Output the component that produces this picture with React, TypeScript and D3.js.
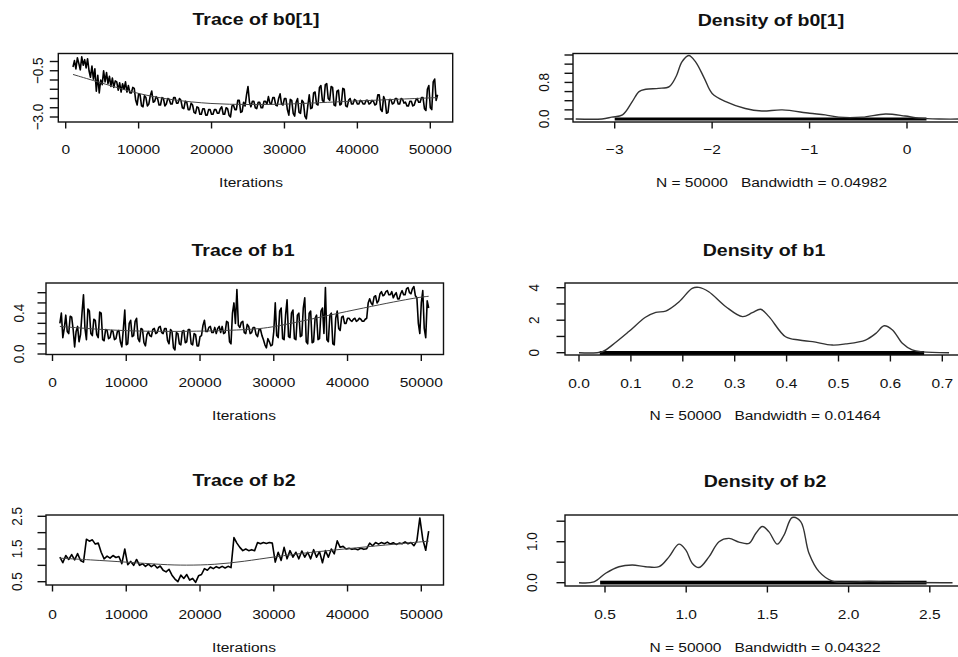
import React from "react";
import * as d3 from "d3";

// thinned MCMC samples starting at iteration 1000
const iterStart = 1000;
const b0Step = 200; // b0 and b1: one value every 200 iterations
const b1Step = 200;
const b2Step = 400; // b2: one value every 400 iterations

const b0Trace = [
  -0.30, 0.05, -0.40, 0.20, -0.10, -0.45, 0.25, -0.20, 0.10, -0.35,
  0.15, -0.50, -0.85, -0.25, -0.95, -0.40, -1.60, -0.75, -1.70, -1.00,
  -1.25, -0.50, -1.10, -0.60, -1.20, -0.80, -1.35, -0.90, -1.40, -1.05,
  -1.10, -1.55, -1.15, -1.65, -1.20, -1.50, -1.10, -1.65, -1.30, -1.70,
  -1.70, -1.40, -1.45, -2.10, -2.35, -1.75, -1.80, -2.40, -2.45, -1.85,
  -1.95, -2.40, -2.30, -1.85, -1.60, -2.20, -2.15, -1.90, -2.00, -2.35,
  -2.35, -1.95, -2.00, -2.40, -2.30, -2.00, -2.05, -2.30, -2.30, -1.95,
  -1.95, -2.25, -2.25, -2.00, -2.10, -2.50, -2.55, -2.15, -2.20, -2.60,
  -2.60, -2.25, -2.35, -2.75, -2.80, -2.45, -2.50, -2.85, -2.85, -2.55,
  -2.55, -2.90, -2.90, -2.60, -2.60, -2.85, -2.85, -2.60, -2.60, -2.80,
  -2.80, -2.55, -2.45, -2.85, -2.85, -2.50, -2.55, -2.90, -3.00, -2.40,
  -2.35, -2.60, -2.60, -2.10, -2.10, -2.75, -2.70, -2.20, -2.40, -1.80,
  -1.35, -2.20, -2.45, -2.15, -2.15, -2.50, -2.55, -2.20, -2.20, -2.50,
  -2.50, -2.15, -2.15, -2.30, -1.90, -2.25, -2.30, -1.95, -1.95, -2.35,
  -2.40, -2.00, -1.75, -2.30, -2.35, -2.00, -2.00, -2.60, -2.90, -2.05,
  -2.10, -2.80, -2.95, -2.20, -2.00, -2.75, -2.80, -2.10, -2.20, -2.95,
  -3.10, -2.40, -1.80, -2.55, -2.50, -1.70, -1.65, -2.30, -2.35, -1.40,
  -1.30, -2.10, -2.20, -1.25, -1.20, -2.00, -2.10, -1.35, -1.40, -2.35,
  -2.40, -1.60, -1.55, -2.35, -2.30, -1.45, -1.50, -2.40, -2.45, -2.10,
  -2.00, -2.30, -2.30, -2.05, -2.10, -2.30, -2.30, -2.10, -2.15, -2.30,
  -2.30, -2.10, -2.10, -2.30, -2.25, -2.10, -2.15, -2.35, -2.30, -1.80,
  -1.80, -2.60, -2.70, -1.90, -2.10, -2.80, -2.75, -2.05, -2.05, -2.30,
  -2.25, -2.00, -2.00, -2.30, -2.30, -2.00, -2.05, -2.25, -2.20, -2.40,
  -2.40, -2.15, -2.15, -2.40, -2.35, -2.10, -2.00, -2.20, -2.20, -1.95,
  -1.95, -2.55, -2.65, -1.50, -1.30, -2.50, -2.60, -1.10, -0.95, -2.10,
  -1.80,
];

const b1Trace = [
  0.30, 0.40, 0.16, 0.25, 0.38, 0.22, 0.20, 0.37, 0.36, 0.24,
  0.07, 0.22, 0.27, 0.12, 0.19, 0.40, 0.58, 0.25, 0.14, 0.44,
  0.42, 0.20, 0.18, 0.34, 0.33, 0.19, 0.16, 0.41, 0.40, 0.14,
  0.13, 0.24, 0.23, 0.15, 0.16, 0.23, 0.22, 0.14, 0.15, 0.22,
  0.23, 0.12, 0.07, 0.24, 0.43, 0.09, 0.10, 0.30, 0.33, 0.17,
  0.18, 0.32, 0.35, 0.15, 0.12, 0.25, 0.24, 0.11, 0.08, 0.19,
  0.22, 0.18, 0.17, 0.24, 0.25, 0.20, 0.21, 0.26, 0.27, 0.21,
  0.20, 0.25, 0.25, 0.13, 0.10, 0.24, 0.22, 0.06, 0.04, 0.21,
  0.20, 0.10, 0.09, 0.22, 0.23, 0.11, 0.12, 0.24, 0.24, 0.10,
  0.09, 0.20, 0.19, 0.08, 0.08, 0.17, 0.18, 0.28, 0.33, 0.22,
  0.22, 0.26, 0.27, 0.21, 0.21, 0.26, 0.20, 0.25, 0.27, 0.21,
  0.27, 0.20, 0.21, 0.32, 0.31, 0.12, 0.10, 0.40, 0.50, 0.30,
  0.63, 0.28, 0.26, 0.31, 0.32, 0.21, 0.20, 0.29, 0.27, 0.20,
  0.21, 0.26, 0.26, 0.19, 0.17, 0.24, 0.24, 0.18, 0.14, 0.09,
  0.06, 0.15, 0.12, 0.08, 0.09, 0.22, 0.50, 0.18, 0.16, 0.42,
  0.45, 0.15, 0.14, 0.38, 0.53, 0.17, 0.16, 0.40, 0.43, 0.15,
  0.14, 0.38, 0.40, 0.17, 0.18, 0.45, 0.55, 0.12, 0.10, 0.40,
  0.42, 0.11, 0.12, 0.35, 0.38, 0.14, 0.15, 0.42, 0.45, 0.20,
  0.65, 0.14, 0.12, 0.38, 0.40, 0.10, 0.09, 0.35, 0.42, 0.25,
  0.23, 0.36, 0.37, 0.30, 0.30, 0.35, 0.35, 0.33, 0.32, 0.34,
  0.35, 0.32, 0.33, 0.35, 0.34, 0.32, 0.32, 0.34, 0.35, 0.50,
  0.54, 0.50, 0.48, 0.56, 0.57, 0.50, 0.52, 0.59, 0.61, 0.57,
  0.58, 0.61, 0.62, 0.58, 0.58, 0.61, 0.55, 0.58, 0.60, 0.54,
  0.54, 0.59, 0.62, 0.58, 0.58, 0.64, 0.65, 0.60, 0.59, 0.64,
  0.66, 0.57, 0.55, 0.30, 0.20, 0.50, 0.62, 0.25, 0.16, 0.52,
  0.45,
];

const b2Trace = [
  1.25, 1.08, 1.30, 1.18, 1.33, 1.17, 1.36, 1.15, 1.10, 1.80,
  1.74, 1.78, 1.65, 1.68, 1.40, 1.20, 1.28, 1.22, 1.30, 1.24,
  1.27, 1.05, 1.50, 1.02, 1.12, 1.00, 1.18, 1.00, 1.05, 0.97,
  1.04, 0.96, 1.02, 0.92, 0.98, 0.85, 0.80, 0.88, 0.70, 0.58,
  0.50, 0.70, 0.60, 0.72, 0.55, 0.60, 0.48, 0.68, 0.72, 0.90,
  0.85, 0.95, 0.90, 0.96, 0.92, 0.97, 0.92, 0.97, 0.93, 1.85,
  1.68, 1.55, 1.45, 1.50, 1.45, 1.48, 1.45, 1.70, 1.66, 1.70,
  1.67, 1.70, 1.68, 1.10, 1.40, 1.15, 1.55, 1.20, 1.45, 1.25,
  1.40, 1.20, 1.44, 1.25, 1.40, 1.20, 1.48, 1.25, 1.42, 1.08,
  1.45, 1.25, 1.50, 1.35, 1.75, 1.55, 1.58, 1.50, 1.52, 1.49,
  1.51, 1.48, 1.52, 1.49, 1.51, 1.68, 1.60, 1.70, 1.65, 1.70,
  1.66, 1.71, 1.65, 1.69, 1.64, 1.68, 1.66, 1.72, 1.66, 1.70,
  1.60, 1.75, 2.45, 1.80, 1.46, 2.05,
];

// lowess smooth over the traces: [iteration, value]
const b0Smooth: [number, number][] = [
  [1000, -0.70], [5500, -1.23], [10000, -1.76], [14500, -2.08], [20000, -2.30],
  [25000, -2.33], [30000, -2.32], [35000, -2.22], [39000, -2.15], [45000, -2.05], [51000, -1.95],
];
const b1Smooth: [number, number][] = [
  [1000, 0.27], [10000, 0.22], [20000, 0.22], [27000, 0.24], [30000, 0.26],
  [40000, 0.42], [49000, 0.55], [51000, 0.565],
];
const b2Smooth: [number, number][] = [
  [1000, 1.22], [5000, 1.17], [10000, 1.10], [15000, 1.02], [18000, 1.00], [22000, 1.02],
  [26000, 1.12], [30000, 1.26], [35000, 1.40], [40000, 1.51], [45000, 1.62], [51000, 1.74],
];

// kernel density estimates: [value, density]
const b0Density: [number, number][] = [
  [-3.40, 0], [-3.13, 0], [-3.03, 0.04], [-2.92, 0.09], [-2.82, 0.38], [-2.75, 0.6],
  [-2.68, 0.65], [-2.55, 0.67], [-2.44, 0.71], [-2.37, 0.93], [-2.31, 1.25], [-2.24, 1.39],
  [-2.17, 1.25], [-2.08, 0.89], [-2.0, 0.56], [-1.86, 0.38], [-1.66, 0.23], [-1.49, 0.175],
  [-1.28, 0.2], [-1.0, 0.125], [-0.84, 0.09], [-0.70, 0.04], [-0.46, 0.04], [-0.22, 0.11],
  [-0.02, 0.065], [0.12, 0.02], [0.33, 0], [0.62, 0],
];
const b1Density: [number, number][] = [
  [0.0, 0], [0.045, 0.06], [0.064, 0.47], [0.096, 1.3], [0.128, 2.18], [0.148, 2.48],
  [0.167, 2.56], [0.193, 3.14], [0.218, 3.96], [0.231, 4.02], [0.25, 3.75], [0.283, 2.83],
  [0.315, 2.22], [0.334, 2.46], [0.35, 2.67], [0.366, 2.22], [0.398, 0.98], [0.424, 0.78],
  [0.45, 0.68], [0.488, 0.47], [0.514, 0.54], [0.552, 0.78], [0.572, 1.19], [0.588, 1.66],
  [0.604, 1.40], [0.623, 0.58], [0.642, 0.17], [0.661, 0.05], [0.713, 0],
];
const b2Density: [number, number][] = [
  [0.34, 0], [0.432, 0.02], [0.504, 0.23], [0.586, 0.39], [0.668, 0.43], [0.75, 0.39],
  [0.833, 0.39], [0.894, 0.63], [0.955, 0.94], [0.997, 0.8], [1.038, 0.47], [1.079, 0.37],
  [1.14, 0.63], [1.202, 1.0], [1.264, 1.08], [1.325, 0.99], [1.387, 0.96], [1.428, 1.2],
  [1.469, 1.37], [1.51, 1.24], [1.561, 0.94], [1.602, 1.16], [1.653, 1.59], [1.705, 1.49],
  [1.756, 0.72], [1.818, 0.27], [1.9, 0.04], [1.98, 0.01], [2.125, 0.03], [2.29, 0.01], [2.64, 0],
];

// sample range shown by the rug under each density
const b0Range = [-3.0, 0.2];
const b1Range = [0.04, 0.665];
const b2Range = [0.47, 2.48];

const traceXTicks = [0, 10000, 20000, 30000, 40000, 50000];
const b0YTicks = [0, -0.5, -1, -1.5, -2, -2.5, -3];
const b0YLabels = [-0.5, -3];
const b1YTicks = [0, 0.1, 0.2, 0.3, 0.4, 0.5, 0.6];
const b1YLabels = [0, 0.4];
const b2YTicks = [0.5, 1, 1.5, 2, 2.5];
const b2YLabels = [0.5, 1.5, 2.5];

const d0XTicks = [-3, -2, -1, 0];
const d0YTicks = [0, 0.2, 0.4, 0.6, 0.8, 1.0, 1.2, 1.4];
const d0YLabels = [0, 0.8];
const d1XTicks = [0, 0.1, 0.2, 0.3, 0.4, 0.5, 0.6, 0.7];
const d1YTicks = [0, 1, 2, 3, 4];
const d1YLabels = [0, 2, 4];
const d2XTicks = [0.5, 1.0, 1.5, 2.0, 2.5];
const d2YTicks = [0, 0.5, 1.0, 1.5];
const d2YLabels = [0, 1.0];

const SX = 1.15;
const FONT = "'Liberation Sans', Arial, Helvetica, sans-serif";

const minus = (s: string) => s.replace("-", "\u2212");

function Txt({ x, y, text, size, bold = false, rotate = false, baseline }: any) {
  return (
    <text
      transform={`translate(${x},${y}) scale(${SX},1)${rotate ? " rotate(-90)" : ""}`}
      fontSize={size}
      fontWeight={bold ? "bold" : "normal"}
      textAnchor="middle"
      dominantBaseline={baseline}
      fontFamily={FONT}
      fill="#111"
      style={{ whiteSpace: "pre" }}
    >
      {text}
    </text>
  );
}

function Panel({ id, cfg, children }: any) {
  const [l, r, t, b] = cfg.box;
  const x = cfg.x;
  const y = cfg.y;
  return (
    <g>
      <defs>
        <clipPath id={id}>
          <rect x={l} y={t} width={r - l} height={b - t} />
        </clipPath>
      </defs>
      <g clipPath={`url(#${id})`}>{children}</g>
      <rect x={l} y={t} width={r - l} height={b - t} fill="none" stroke="#111" strokeWidth={1.4} />
      {cfg.xTicks.map((v: number) => (
        <line key={"xt" + v} x1={x(v)} x2={x(v)} y1={b} y2={b + 6.5} stroke="#111" strokeWidth={1.4} />
      ))}
      {cfg.xTicks.map((v: number) => (
        <Txt key={"xl" + v} x={x(v)} y={cfg.xLabY} text={minus(cfg.xFmt(v))} size={13.5} />
      ))}
      {cfg.yTicks.map((v: number) => (
        <line key={"yt" + v} x1={l - 8.5} x2={l} y1={y(v)} y2={y(v)} stroke="#111" strokeWidth={1.4} />
      ))}
      {cfg.yLabels.map((v: number) => (
        <Txt key={"yl" + v} x={cfg.yLabX} y={y(v)} text={minus(cfg.yFmt(v))} size={13.5} rotate baseline="central" />
      ))}
      <Txt x={cfg.titleX} y={cfg.titleY} text={cfg.title} size={17} bold />
      <Txt x={cfg.subX} y={cfg.subY} text={cfg.sub} size={13.5} />
    </g>
  );
}

function TracePanel({ id, cfg, values, step, smooth }: any) {
  const line = d3
    .line<number>()
    .x((_, i) => cfg.x(iterStart + i * step))
    .y((d) => cfg.y(d));
  const smoothLine = d3
    .line<[number, number]>()
    .curve(d3.curveBasis)
    .x((d) => cfg.x(d[0]))
    .y((d) => cfg.y(d[1]));
  return (
    <Panel id={id} cfg={cfg}>
      <path d={line(values) || ""} fill="none" stroke="#000" strokeWidth={1.6} strokeLinejoin="round" />
      <path d={smoothLine(smooth) || ""} fill="none" stroke="#444" strokeWidth={1} />
    </Panel>
  );
}

function DensityPanel({ id, cfg, density, range }: any) {
  const line = d3
    .line<[number, number]>()
    .curve(d3.curveCatmullRom.alpha(0.5))
    .x((d) => cfg.x(d[0]))
    .y((d) => cfg.y(d[1]));
  const y0 = cfg.y(0);
  return (
    <Panel id={id} cfg={cfg}>
      <rect
        x={cfg.x(range[0])}
        y={y0 - cfg.rug[0]}
        width={cfg.x(range[1]) - cfg.x(range[0])}
        height={cfg.rug[0] + cfg.rug[1]}
        fill="#000"
      />
      <path d={line(density) || ""} fill="none" stroke="#333" strokeWidth={1.4} />
    </Panel>
  );
}

const fmtInt = (v: number) => String(v);
const fmt1 = (v: number) => v.toFixed(1);

export default function App() {
  const traceX1 = d3.scaleLinear().domain([0, 50000]).range([65.7, 430.3]);
  const traceX2 = d3.scaleLinear().domain([0, 50000]).range([52.5, 421.3]);

  const t0 = {
    box: [58.3, 452.7, 53.5, 122],
    x: traceX1,
    y: d3.scaleLinear().domain([0, -3]).range([61.5, 117]),
    xTicks: traceXTicks, xFmt: fmtInt, xLabY: 154,
    yTicks: b0YTicks, yLabels: b0YLabels, yFmt: fmt1, yLabX: 38,
    title: "Trace of b0[1]", titleX: 256, titleY: 25,
    sub: "Iterations", subX: 251, subY: 187,
  };
  const t1 = {
    box: [46, 443.5, 283, 354.5],
    x: traceX2,
    y: d3.scaleLinear().domain([0, 0.6]).range([354, 292.7]),
    xTicks: traceXTicks, xFmt: fmtInt, xLabY: 387,
    yTicks: b1YTicks, yLabels: b1YLabels, yFmt: fmt1, yLabX: 18.5,
    title: "Trace of b1", titleX: 243, titleY: 256,
    sub: "Iterations", subX: 244, subY: 420,
  };
  const t2 = {
    box: [46, 443.5, 515, 585],
    x: traceX2,
    y: d3.scaleLinear().domain([0.5, 2.5]).range([581.7, 516.3]),
    xTicks: traceXTicks, xFmt: fmtInt, xLabY: 619,
    yTicks: b2YTicks, yLabels: b2YLabels, yFmt: fmt1, yLabX: 17,
    title: "Trace of b2", titleX: 244, titleY: 486,
    sub: "Iterations", subX: 244, subY: 652,
  };
  const d0 = {
    box: [573, 967, 53.5, 122],
    x: d3.scaleLinear().domain([-3, 0]).range([614.7, 907]),
    y: d3.scaleLinear().domain([0, 1.4]).range([119, 55]),
    xTicks: d0XTicks, xFmt: fmtInt, xLabY: 154,
    yTicks: d0YTicks, yLabels: d0YLabels, yFmt: fmt1, yLabX: 544,
    title: "Density of b0[1]", titleX: 771, titleY: 26,
    sub: "N = 50000   Bandwidth = 0.04982", subX: 771.5, subY: 187,
    rug: [1.5, 1.5],
  };
  const d1 = {
    box: [565, 963, 283, 355],
    x: d3.scaleLinear().domain([0, 0.7]).range([579, 942.3]),
    y: d3.scaleLinear().domain([0, 4]).range([352.7, 287.7]),
    xTicks: d1XTicks, xFmt: fmt1, xLabY: 387.5,
    yTicks: d1YTicks, yLabels: d1YLabels, yFmt: fmtInt, yLabX: 534,
    title: "Density of b1", titleX: 764, titleY: 256,
    sub: "N = 50000   Bandwidth = 0.01464", subX: 765, subY: 420,
    rug: [1.7, 2.3],
  };
  const d2 = {
    box: [565, 964, 515, 586],
    x: d3.scaleLinear().domain([0.5, 2.5]).range([605, 929.8]),
    y: d3.scaleLinear().domain([0, 1.5]).range([582.7, 521.2]),
    xTicks: d2XTicks, xFmt: fmt1, xLabY: 618.5,
    yTicks: d2YTicks, yLabels: d2YLabels, yFmt: fmt1, yLabX: 532,
    title: "Density of b2", titleX: 765, titleY: 487,
    sub: "N = 50000   Bandwidth = 0.04322", subX: 765, subY: 652,
    rug: [2, 1.8],
  };

  return (
    <svg
      width={958}
      height={657}
      style={{ position: "absolute", left: 0, top: 0, background: "#fff" }}
    >
      <rect x={0} y={0} width={958} height={657} fill="#fff" />
      <TracePanel id="c-t0" cfg={t0} values={b0Trace} step={b0Step} smooth={b0Smooth} />
      <TracePanel id="c-t1" cfg={t1} values={b1Trace} step={b1Step} smooth={b1Smooth} />
      <TracePanel id="c-t2" cfg={t2} values={b2Trace} step={b2Step} smooth={b2Smooth} />
      <DensityPanel id="c-d0" cfg={d0} density={b0Density} range={b0Range} />
      <DensityPanel id="c-d1" cfg={d1} density={b1Density} range={b1Range} />
      <DensityPanel id="c-d2" cfg={d2} density={b2Density} range={b2Range} />
    </svg>
  );
}
